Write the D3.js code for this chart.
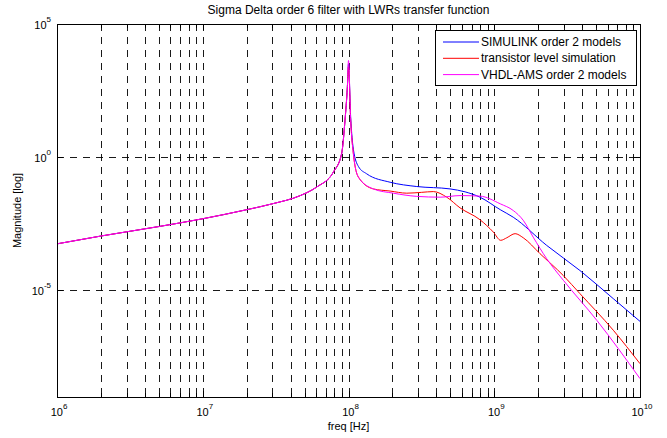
<!DOCTYPE html>
<html>
<head>
<meta charset="utf-8">
<script src="https://cdn.jsdelivr.net/npm/d3@7/dist/d3.min.js"></script>
<style>
  body { margin: 0; background: #fff; }
  text { font-family: "Liberation Sans", Arial, sans-serif; fill: #000; }
</style>
</head>
<body>
<div id="chartDiv"></div>
<script>
// shared low-frequency part + resonance rise (all three curves overlap here)
var lowFreq = [1e6, 2e6, 5e6, 1e7, 2e7, 3e7, 4.65e7, 6.05e7, 7.87e7, 8.97e7, 9.46e7, 9.82e7];
var lowMag  = [5.6e-4, 1.1e-3, 2.5e-3, 4.9e-3, 1.07e-2, 1.78e-2, 3.6e-2, 7.6e-2, 0.275, 1.35, 24, 417];

// SIMULINK order 2 models
var blueFreq = [1e8, 1.035e8, 1.08e8, 1.17e8, 1.33e8, 1.93e8, 2.94e8, 4.97e8, 6.31e8, 7.98e8, 1.1e9, 1.35e9, 2.29e9, 3.87e9, 6.56e9, 1e10];
var blueMag  = [3160, 31.6, 2.0, 0.447, 0.24, 0.115, 0.0794, 0.0646, 0.0501, 0.0316, 0.0107, 5.6e-3, 4.9e-4, 5.6e-5, 4.9e-6, 6.9e-7];

// transistor level simulation
var redFreq = [1e8, 1.035e8, 1.08e8, 1.17e8, 1.48e8, 1.93e8, 2.51e8, 3.16e8, 3.82e8, 4.72e8, 5.82e8, 7.98e8, 9.86e8, 1.107e9, 1.22e9, 1.39e9, 1.58e9, 2.06e9, 2.98e9, 3.87e9, 6.56e9, 1e10];
var redMag  = [2510, 24, 1.35, 0.178, 0.0646, 0.0537, 0.0447, 0.0479, 0.0513, 0.0316, 0.0126, 4.5e-3, 1.55e-3, 7.6e-4, 9.5e-4, 1.35e-3, 9.5e-4, 2.4e-4, 3.6e-5, 7.6e-6, 3.2e-7, 1.78e-8];

// VHDL-AMS order 2 models
var magFreq = [1e8, 1.035e8, 1.08e8, 1.17e8, 1.48e8, 2.03e8, 2.94e8, 4.25e8, 5.82e8, 7.98e8, 1.1e9, 1.35e9, 1.58e9, 1.85e9, 2.29e9, 2.98e9, 5.05e9, 1e10];
var magMag  = [4270, 24, 1.35, 0.178, 0.0646, 0.0447, 0.0339, 0.0316, 0.0363, 0.0347, 0.0178, 0.01, 4.3e-3, 1e-3, 1.55e-4, 2.4e-5, 7.6e-7, 4.9e-9];

var seriesNames = ['SIMULINK order 2 models', 'transistor level simulation', 'VHDL-AMS order 2 models'];
var seriesColors = ['#0000ff', '#ff0000', '#ff00ff'];

var xMajor = [1e6, 1e7, 1e8, 1e9, 1e10];
var yMajor = [1e-5, 1e0, 1e5];

var w = 667, h = 438,
  padL = 57, padR = 640, padT = 24, padB = 397;

var svg = d3.select('#chartDiv').append('svg')
  .attr('width', w)
  .attr('height', h);

var xScale = d3.scaleLog().domain([1e6, 1e10]).range([padL, padR]);
var yScale = d3.scaleLog().domain([1e-9, 1e5]).range([padB, padT]);

// minor x positions (2..9 in every decade)
var xMinor = [];
for (var d = 6; d < 10; d++) {
  for (var k = 2; k <= 9; k++) xMinor.push(k * Math.pow(10, d));
}
var xGrid = xMinor.concat(xMajor.slice(1, -1));

function px(v) { return Math.round(v) + 0.5; }

// grid
svg.append('g').selectAll('line').data(xGrid).enter().append('line')
  .attr('x1', function(d) { return px(xScale(d)); })
  .attr('x2', function(d) { return px(xScale(d)); })
  .attr('y1', padT).attr('y2', padB)
  .attr('stroke', '#000').attr('stroke-width', 0.9)
  .attr('stroke-dasharray', '7,6');

svg.append('g').selectAll('line').data(yMajor.slice(0, -1)).enter().append('line')
  .attr('x1', padL).attr('x2', padR)
  .attr('y1', function(d) { return px(yScale(d)); })
  .attr('y2', function(d) { return px(yScale(d)); })
  .attr('stroke', '#000').attr('stroke-width', 0.9)
  .attr('stroke-dasharray', '7,6');

// ticks (inside, top + bottom, left + right)
var ticks = svg.append('g').attr('stroke', '#000').attr('stroke-width', 1);
xMinor.concat(xMajor).forEach(function(d) {
  var x = px(xScale(d)), len = xMajor.indexOf(d) >= 0 ? 6 : 4;
  ticks.append('line').attr('x1', x).attr('x2', x).attr('y1', padB).attr('y2', padB - len);
  ticks.append('line').attr('x1', x).attr('x2', x).attr('y1', padT).attr('y2', padT + len);
});
yMajor.forEach(function(d) {
  var y = px(yScale(d));
  ticks.append('line').attr('x1', padL).attr('x2', padL + 6).attr('y1', y).attr('y2', y);
  ticks.append('line').attr('x1', padR).attr('x2', padR - 6).attr('y1', y).attr('y2', y);
});

// curves
var line = d3.line()
  .x(function(d) { return xScale(d[0]); })
  .y(function(d) { return yScale(d[1]); })
  .curve(d3.curveMonotoneX);

function pairs(f, m) { return f.map(function(v, i) { return [v, m[i]]; }); }
var base = pairs(lowFreq, lowMag);
var seriesData = [
  base.concat(pairs(blueFreq, blueMag)),
  base.concat(pairs(redFreq, redMag)),
  base.concat(pairs(magFreq, magMag))
];

svg.append('defs').append('clipPath').attr('id', 'clip')
  .append('rect').attr('x', padL).attr('y', padT).attr('width', padR - padL).attr('height', padB - padT);

svg.append('g').attr('clip-path', 'url(#clip)')
  .selectAll('path').data(seriesData).enter().append('path')
  .attr('d', line)
  .attr('fill', 'none')
  .attr('stroke', function(d, i) { return seriesColors[i]; })
  .attr('stroke-width', 1);

// axes box
svg.append('rect')
  .attr('x', padL + 0.5).attr('y', padT + 0.5)
  .attr('width', padR - padL).attr('height', padB - padT)
  .attr('fill', 'none').attr('stroke', '#000').attr('stroke-width', 1);

// tick labels
function expLabel(sel, d) {
  var e = Math.round(Math.log10(d));
  sel.append('tspan').text('10');
  sel.append('tspan').attr('dy', -7).attr('font-size', '8px').text(e);
}
xMajor.forEach(function(d) {
  var t = svg.append('text')
    .attr('x', xScale(d) + 2).attr('y', 416)
    .attr('text-anchor', 'middle').attr('font-size', '11px');
  expLabel(t, d);
});
yMajor.forEach(function(d) {
  var t = svg.append('text')
    .attr('x', 51).attr('y', yScale(d) + 5)
    .attr('text-anchor', 'end').attr('font-size', '11px');
  expLabel(t, d);
});

// titles
svg.append('text')
  .attr('x', (padL + padR) / 2).attr('y', 14)
  .attr('text-anchor', 'middle').attr('font-size', '12px')
  .text('Sigma Delta order 6 filter with LWRs transfer function');
svg.append('text')
  .attr('x', (padL + padR) / 2).attr('y', 430)
  .attr('text-anchor', 'middle').attr('font-size', '11px')
  .text('freq [Hz]');
svg.append('text')
  .attr('transform', 'translate(21,' + ((padT + padB) / 2) + ') rotate(-90)')
  .attr('text-anchor', 'middle').attr('font-size', '11px')
  .text('Magnitude [log]');

// legend
var lg = svg.append('g');
lg.append('rect')
  .attr('x', 435.5).attr('y', 30.5).attr('width', 201).attr('height', 55)
  .attr('fill', '#fff').attr('stroke', '#000').attr('stroke-width', 1);
seriesNames.forEach(function(name, i) {
  var y = 42 + i * 16.3;
  lg.append('line')
    .attr('x1', 443).attr('x2', 479).attr('y1', y).attr('y2', y)
    .attr('stroke', seriesColors[i]).attr('stroke-width', 1);
  lg.append('text')
    .attr('x', 481).attr('y', y + 4)
    .attr('font-size', '12px')
    .text(name);
});
</script>
</body>
</html>
